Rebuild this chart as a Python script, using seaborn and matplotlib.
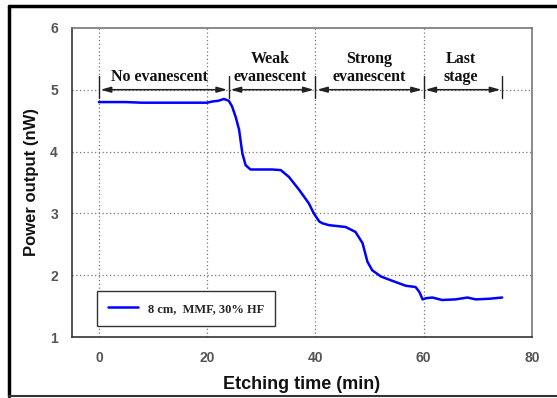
import matplotlib
matplotlib.use("Agg")
import matplotlib.pyplot as plt
from matplotlib.lines import Line2D
import numpy as np
import pandas as pd
import seaborn as sns

# ── data ──────────────────────────────────────────────────────────────────────
etch_time = [0, 2, 5, 8, 10, 12, 15, 18, 20, 21, 22, 23.1, 24, 24.6, 25.3,
             25.9, 26.5, 27.1, 28.0, 30, 32, 33.6, 35.1, 37.0, 38.8, 39.7,
             40.7, 41.3, 42.5, 45.6, 47.4, 48.7, 49.6, 50.5, 52.1, 54.2,
             56.7, 58.5, 59.2, 59.8, 60.5, 61.6, 63.4, 65.9, 68.1, 69.6,
             72.1, 74.5]
power_nw = [4.80, 4.80, 4.80, 4.79, 4.79, 4.79, 4.79, 4.79, 4.79, 4.81, 4.82,
            4.85, 4.82, 4.73, 4.55, 4.35, 3.97, 3.78, 3.71, 3.71, 3.71, 3.70,
            3.59, 3.38, 3.16, 3.00, 2.87, 2.84, 2.81, 2.78, 2.70, 2.52, 2.22,
            2.08, 1.98, 1.91, 1.83, 1.81, 1.73, 1.61, 1.63, 1.64, 1.60, 1.61,
            1.64, 1.61, 1.62, 1.64]

stage_bounds = [0, 24, 40, 60, 74.5]
stage_labels = ["No evanescent", "Weak\nevanescent", "Strong\nevanescent",
                "Last\nstage"]
stage_label_x = [11.1, 31.6, 49.9, 66.8]
series_label = "8 cm,  MMF, 30% HF"

x_ticks = [0, 20, 40, 60, 80]
y_ticks = [1, 2, 3, 4, 5, 6]

df = pd.DataFrame({"time": etch_time, "power": power_nw})

sns.set_style("white")
plt.rcParams["font.family"] = ["Liberation Sans", "DejaVu Sans"]

fig = plt.figure(figsize=(5.57, 3.98), dpi=100)
ax = fig.add_axes([0.129, 0.153, 0.826, 0.777])

# grid (dotted), only interior lines
for gx in x_ticks[:-1]:
    ax.axvline(gx, color="#777777", ls=(0, (1, 2)), lw=0.9, zorder=0)
for gy in y_ticks[1:-1]:
    ax.axhline(gy, color="#777777", ls=(0, (1, 2)), lw=0.9, zorder=0)

sns.lineplot(data=df, x="time", y="power", ax=ax, color="#0000FF", lw=1.8,
             sort=False, estimator=None, zorder=3)

# stage arrows
arrow_y = 5.0
for x0, x1 in zip(stage_bounds[:-1], stage_bounds[1:]):
    ax.annotate("", xy=(x1 - 0.3, arrow_y), xytext=(x0 + 0.3, arrow_y),
                arrowprops=dict(arrowstyle="<|-|>,head_length=0.6,head_width=0.17",
                                color="#222222", lw=1.1,
                                shrinkA=0, shrinkB=0), zorder=4)
for xb in stage_bounds:
    ax.plot([xb, xb], [4.86, 5.22], color="#222222", lw=1.0, zorder=4)
ax.fill_between([74.5, 80], 4.97, 5.03, color="white", zorder=1)
ax.plot([74.5, 80], [5, 5], color="#777777", ls=(0, (1, 2)), lw=0.9, zorder=2)

for lx, txt in zip(stage_label_x, stage_labels):
    ax.text(lx, 5.08, txt, ha="center", va="bottom", family="Liberation Serif",
            fontweight="bold", fontsize=11.5, linespacing=1.15, color="#111111",
            zorder=5)

ax.set_xlim(-5, 80)
ax.set_ylim(1, 6)
ax.set_xticks(x_ticks)
ax.set_yticks(y_ticks)
ax.tick_params(axis="both", direction="out", length=4, width=1,
               color="#333333", labelsize=10, labelcolor="#555555", pad=6)
for lab in ax.get_xticklabels() + ax.get_yticklabels():
    lab.set_fontweight("bold")

ax.set_xlabel("Etching time (min)", fontsize=13, fontweight="bold",
              color="#111111", labelpad=8)
ax.set_ylabel("Power output (nW)", fontsize=12, fontweight="bold",
              color="#111111", labelpad=8)

for side in ["left", "bottom"]:
    ax.spines[side].set_color("#333333")
    ax.spines[side].set_linewidth(1.2)
for side in ["top", "right"]:
    ax.spines[side].set_color("#777777")
    ax.spines[side].set_linewidth(1.2)

handle = Line2D([0], [0], color="#0000FF", lw=1.8)
leg = ax.legend([handle], [series_label], loc="lower left",
                bbox_to_anchor=(0.054, 0.036), borderaxespad=0,
                prop={"family": "Liberation Serif", "weight": "bold",
                      "size": 9},
                fancybox=False, framealpha=1, edgecolor="#333333",
                handlelength=2.4, borderpad=0.9, handletextpad=0.8)
leg.get_frame().set_linewidth(1.0)
leg.set_zorder(6)

# outer frame around the figure
fig.add_artist(Line2D([0.016, 1.0], [0.985, 0.985], color="black", lw=2.5,
                      transform=fig.transFigure))
fig.add_artist(Line2D([0.017, 0.017], [0.005, 0.985], color="black", lw=2.5,
                      transform=fig.transFigure))
fig.add_artist(Line2D([0.016, 1.0], [0.006, 0.006], color="#333333", lw=1.5,
                      transform=fig.transFigure))

fig.savefig("out.png", dpi=100)
